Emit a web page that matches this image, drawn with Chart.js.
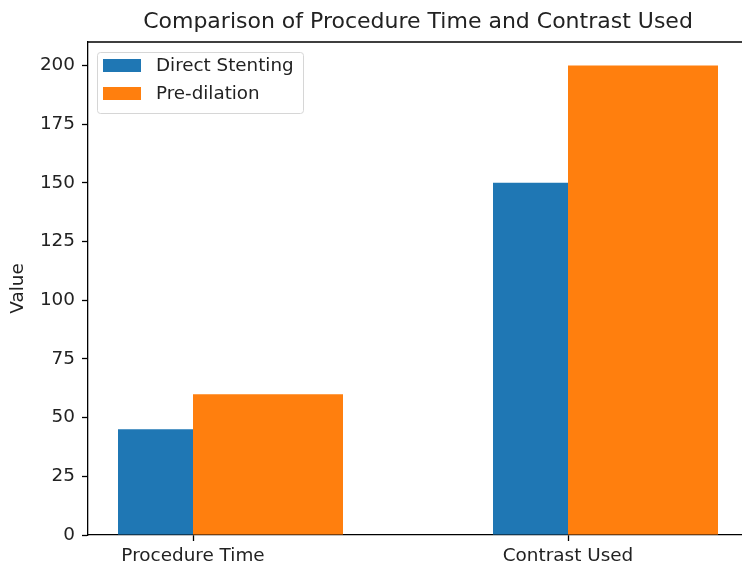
<!DOCTYPE html>
<html>
<head>
<meta charset="utf-8">
<script src="https://cdn.jsdelivr.net/npm/chart.js@4"></script>
<style>
  html, body { margin: 0; padding: 0; background: #fff; overflow: hidden; }
  #wrap { width: 752px; height: 565px; }
</style>
</head>
<body>
<div id="wrap"><canvas id="grafico"></canvas></div>
<script>
const categories = ["Procedure Time", "Contrast Used"];
const directStenting = [45, 150];
const preDilation = [60, 200];
const yTicks = [0, 25, 50, 75, 100, 125, 150, 175, 200];
const titulo = "Comparison of Procedure Time and Contrast Used";

const fontFamily = "'DejaVu Sans', sans-serif";

// matplotlib-like box: title over the axes, top spine, legend inside the axes
const marcoYLeyenda = {
    id: "marcoYLeyenda",
    afterDraw(chart) {
        const ctx = chart.ctx;
        const area = chart.chartArea;
        ctx.save();
        ctx.strokeStyle = "#000";
        ctx.lineWidth = 1.3;
        ctx.beginPath();
        ctx.moveTo(area.left, area.top);
        ctx.lineTo(area.right, area.top);
        ctx.lineTo(area.right, area.bottom);
        ctx.stroke();

        ctx.fillStyle = "#222";
        ctx.font = "22px " + fontFamily;
        ctx.textAlign = "center";
        ctx.textBaseline = "middle";
        ctx.fillText(titulo, (area.left + area.right) / 2, area.top - 20);

        const x = area.left + 9;
        const y = area.top + 10;
        const w = 206;
        const h = 61;
        ctx.fillStyle = "rgba(255,255,255,0.8)";
        ctx.strokeStyle = "#d6d6d6";
        ctx.lineWidth = 1;
        ctx.beginPath();
        ctx.roundRect(x + 0.5, y + 0.5, w, h, 3);
        ctx.fill();
        ctx.stroke();

        ctx.font = "18.3px " + fontFamily;
        ctx.textAlign = "left";
        chart.data.datasets.forEach((ds, i) => {
            const rowY = y + 7 + i * 28;
            ctx.fillStyle = ds.backgroundColor;
            ctx.fillRect(x + 6, rowY, 38, 13);
            ctx.fillStyle = "#222";
            ctx.fillText(ds.label, x + 59, rowY + 7);
        });
        ctx.restore();
    }
};

const ctx = document.getElementById("grafico").getContext("2d");
const chart = new Chart(ctx, {
    type: "bar",
    data: {
        datasets: [{
            label: "Direct Stenting",
            data: directStenting.map((v, i) => ({ x: i - 0.1, y: v })),
            backgroundColor: "#1f77b4",
            categoryPercentage: 1,
            barPercentage: 2 / 3
        }, {
            label: "Pre-dilation",
            data: preDilation.map((v, i) => ({ x: i + 0.2, y: v })),
            backgroundColor: "#ff7f0e",
            categoryPercentage: 1,
            barPercentage: 4 / 3
        }]
    },
    options: {
        responsive: true,
        maintainAspectRatio: false,
        animation: false,
        grouped: false,
        layout: { padding: { left: 0, right: 4, top: 42, bottom: 0 } },
        plugins: {
            legend: { display: false },
            tooltip: { enabled: false },
            title: { display: false }
        },
        scales: {
            x: {
                type: "linear",
                min: -0.28,
                max: 1.48,
                offset: false,
                grid: { offset: false, drawOnChartArea: false, tickLength: 6, tickColor: "#000", tickWidth: 1.3 },
                border: { color: "#000", width: 1.3 },
                afterBuildTicks: (scale) => {
                    scale.ticks = categories.map((c, i) => ({ value: i }));
                },
                afterFit: (scale) => { scale.height = 30; },
                ticks: {
                    color: "#222",
                    padding: 4,
                    maxRotation: 0,
                    autoSkip: false,
                    font: { family: fontFamily, size: 18.4 },
                    callback: (v) => categories[v]
                }
            },
            y: {
                min: 0,
                max: 210,
                grid: { drawOnChartArea: false, tickLength: 6, tickColor: "#000", tickWidth: 1.3 },
                border: { color: "#000", width: 1.3 },
                afterBuildTicks: (scale) => {
                    scale.ticks = yTicks.map((v) => ({ value: v }));
                },
                afterFit: (scale) => { scale.width = 88; },
                title: {
                    display: true,
                    text: "Value",
                    color: "#222",
                    font: { family: fontFamily, size: 18.4 },
                    padding: { top: 7, bottom: 0 }
                },
                ticks: {
                    color: "#222",
                    padding: 7,
                    font: { family: fontFamily, size: 18.4 }
                }
            }
        }
    },
    plugins: [marcoYLeyenda]
});
</script>
</body>
</html>
